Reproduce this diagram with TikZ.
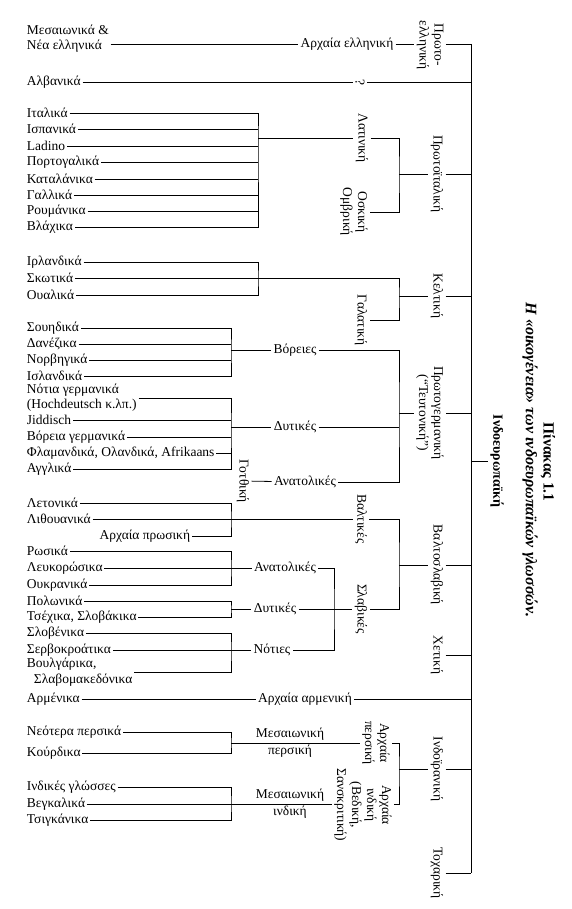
\documentclass[tikz,border=0pt]{standalone}
\usepackage{fontspec}
\setmainfont{Liberation Serif}
\begin{document}
\begin{tikzpicture}[x=1pt,y=-1pt,line width=0.8pt,
  every node/.style={font=\fontsize{13.5}{15}\selectfont,inner sep=2pt},
  leaf/.style={anchor=west,align=left,inner sep=1.5pt},
  leafr/.style={anchor=east,align=left,inner sep=1.5pt},
  rot/.style={rotate=-90,align=center,inner sep=2pt},
  mid/.style={inner sep=2pt},
  twoline/.style={align=center,inner sep=0pt,font=\fontsize{13.5}{17}\selectfont}]
\useasboundingbox (0,0) rectangle (571,909);
\coordinate (trunk) at (471,0);
% ---------------- Greek / Albanian
\node[leaf] (gr) at (25,39) {Μεσαιωνικά \&\\Νέα ελληνικά};
\node[mid] (ag) at (347,44) {Αρχαία ελληνική};
\node[rot] (pgr) at (430,45) {Πρωτο-\\ελληνική};
\node[leaf] (alb) at (25,82) {Αλβανικά};
\node[rot] (q) at (360,82) {?};
% ---------------- Italic
\node[leaf] (it) at (25,113) {Ιταλικά};
\node[leaf] (es) at (25,129) {Ισπανικά};
\node[leaf] (lad) at (25,146) {Ladino};
\node[leaf] (pt) at (25,162) {Πορτογαλικά};
\node[leaf] (cat) at (25,179) {Καταλάνικα};
\node[leaf] (fr) at (25,195) {Γαλλικά};
\node[leaf] (ro) at (25,211) {Ρουμάνικα};
\node[leaf] (vl) at (25,227) {Βλάχικα};
\coordinate (itB) at (258,138);
\node[rot] (lat) at (362,138) {Λατινική};
\node[rot] (osk) at (354,212) {Οσκική\\Ομβρική};
\coordinate (pitB) at (399,174);
\node[rot] (pit) at (437,174) {Πρωτοϊταλική};
% ---------------- Celtic
\node[leaf] (ir) at (25,262) {Ιρλανδικά};
\node[leaf] (sc) at (25,278) {Σκωτικά};
\node[leaf] (wa) at (25,295) {Ουαλικά};
\coordinate (irB) at (258,278);
\coordinate (celB) at (399,296);
\node[rot] (gal) at (361,320) {Γαλατική};
\node[rot] (kel) at (437,296) {Κελτική};
% ---------------- Germanic
\node[leaf] (sw) at (25,328) {Σουηδικά};
\node[leaf] (da) at (25,344) {Δανέζικα};
\node[leaf] (no) at (25,360) {Νορβηγικά};
\node[leaf] (is) at (25,376) {Ισλανδικά};
\node[leaf] (de) at (25,398) {Νότια γερμανικά\\(Hochdeutsch κ.λπ.)};
\node[leaf] (yi) at (25,420) {Jiddisch};
\node[leaf] (nd) at (25,437) {Βόρεια γερμανικά};
\node[leaf] (nl) at (25,453) {Φλαμανδικά, Ολανδικά, Afrikaans};
\node[leaf] (en) at (25,469) {Αγγλικά};
\coordinate (norB) at (231,350);
\coordinate (wesB) at (231,427);
\node[mid] (bor) at (295,350) {Βόρειες};
\node[mid] (dyt) at (295,427) {Δυτικές};
\node[mid] (ana) at (305,482) {Ανατολικές};
\node[rot] (got) at (243,481) {Γοτθική};
\coordinate (pgeB) at (399,413);
\node[rot] (pge) at (430,413) {Πρωτογερμανική\\(“Τευτονική”)};
% ---------------- Balto-Slavic
\node[leaf] (lv) at (25,503) {Λετονικά};
\node[leaf] (lt) at (25,519) {Λιθουανικά};
\node[leafr] (pr) at (192,536) {Αρχαία πρωσική};
\coordinate (baB) at (231,519);
\node[rot] (bal) at (361,519) {Βαλτικές};
\coordinate (bslB) at (399,565);
\node[rot] (bsl) at (437,565) {Βαλτοσλαβική};
\node[rot] (sla) at (361,609) {Σλαβικές};
\node[leaf] (ru) at (25,551) {Ρωσικά};
\node[leaf] (be) at (25,568) {Λευκορώσικα};
\node[leaf] (uk) at (25,585) {Ουκρανικά};
\node[leaf] (pl) at (25,601) {Πολωνικά};
\node[leaf] (cz) at (25,617) {Τσέχικα, Σλοβάκικα};
\node[leaf] (sl) at (25,633) {Σλοβένικα};
\node[leaf] (sh) at (25,650) {Σερβοκροάτικα};
\node[leaf,font=\fontsize{13.5}{16}\selectfont] (bg) at (25,672) {Βουλγάρικα,\\\hspace{7pt}Σλαβομακεδόνικα};
\coordinate (esB) at (231,568);
\coordinate (wsB) at (231,609);
\coordinate (ssB) at (231,650);
\coordinate (slaB) at (334,609);
\node[mid] (sana) at (285,568) {Ανατολικές};
\node[mid] (sdyt) at (275,609) {Δυτικές};
\node[mid] (snot) at (272,650) {Νότιες};
% ---------------- Hittite, Armenian
\node[rot] (het) at (437,655) {Χετική};
\node[leaf] (hy) at (25,699) {Αρμένικα};
\node[mid] (arm) at (305,699) {Αρχαία αρμενική};
% ---------------- Indo-Iranian
\node[leaf] (fa) at (25,732) {Νεότερα περσικά};
\node[leaf] (ku) at (25,753) {Κούρδικα};
\coordinate (peB) at (231,743);
\node[twoline] (mp) at (290,743) {Μεσαιωνική\\περσική};
\node[rot] (ap) at (376,743) {Αρχαία\\περσική};
\coordinate (iirB) at (399,769);
\node[rot] (iir) at (437,769) {Ινδοϊρανική};
\node[leaf] (in) at (25,787) {Ινδικές γλώσσες};
\node[leaf] (bn) at (25,804) {Βεγκαλικά};
\node[leaf] (rom) at (25,820) {Τσιγκάνικα};
\coordinate (inB) at (231,804);
\node[twoline] (mi) at (290,804) {Μεσαιωνική\\ινδική};
\node[rot] (ai) at (363,805) {Αρχαία\\ινδική\\(Βεδική,\\Σανσκριτική)};
\node[rot] (toch) at (437,873) {Τοχαρική};
% ---------------- root and title
\node[rot,font=\fontsize{14}{16}\selectfont\bfseries] (ie) at (497,461) {Ινδοευρωπαϊκή};
\node[rot,font=\fontsize{15.5}{17}\selectfont\bfseries] (t1) at (548,462) {Πίνακας 1.1};
\node[rot,font=\fontsize{16}{17}\selectfont\bfseries\itshape] (t2) at (530,460) {Η «οικογένεια» των ινδοευρωπαϊκών γλωσσών.};
% ================= connectors
\draw (gr.east |- ag) -- (ag);
\draw (ag) -- (ag -| pgr.south);
\draw (pgr.north |- ag) -- (ag -| trunk);
\draw (alb) -- (q);
\draw (q) -- (q -| trunk);
\draw (it) -| (itB) |- (vl);
\foreach \n in {es,lad,pt,cat,fr,ro} \draw (\n) -- (\n -| itB);
\draw (itB) -- (lat);
\draw (lat) -| (pitB) |- (osk);
\draw (pitB) -- (pit);
\draw (pit) -- (pit -| trunk);
\draw (ir) -| (irB) |- (wa);
\draw (sc) -| (celB) |- (gal);
\draw (celB) -- (kel);
\draw (kel) -- (kel -| trunk);
\draw (sw) -| (norB) |- (is);
\foreach \n in {da,no} \draw (\n) -- (\n -| norB);
\draw (norB) -- (bor);
\draw (de) -| (wesB) |- (en);
\foreach \n in {yi,nd,nl} \draw (\n) -- (\n -| wesB);
\draw (wesB) -- (dyt);
\draw (got) -- (ana);
\draw (bor) -| (pgeB) |- (ana);
\draw (dyt) -- (dyt -| pgeB);
\draw (pgeB) -- (pge);
\draw (pge) -- (pge -| trunk);
\draw (lv) -| (baB) |- (pr);
\draw (lt) -- (bal);
\draw (bal) -| (bslB) |- (sla);
\draw (bslB) -- (bsl);
\draw (bsl) -- (bsl -| trunk);
\draw (ru) -| (esB) |- (uk);
\draw (be) -- (sana);
\draw (pl) -| (wsB) |- (cz);
\draw (wsB) -- (sdyt);
\draw (sl) -| (ssB) |- (bg);
\draw (sh) -- (snot);
\draw (sana) -| (slaB) |- (snot);
\draw (sdyt) -- (sla);
\draw (het) -- (het -| trunk);
\draw (hy) -- (arm);
\draw (arm) -- (arm -| trunk);
\draw (fa) -| (peB) |- (ku);
\draw (peB) -- (peB -| ap.south);
\draw (ap) -| (iirB) |- (ai.north |- inB);
\draw (iirB) -- (iir);
\draw (iir) -- (iir -| trunk);
\draw (in) -| (inB) |- (rom);
\draw (bn) -- (bn -| ai.south);
\draw (toch) -- (toch -| trunk);
\draw (ag -| trunk) -- (toch -| trunk);
\draw (ie) -- (ie -| trunk);
\end{tikzpicture}
\end{document}
